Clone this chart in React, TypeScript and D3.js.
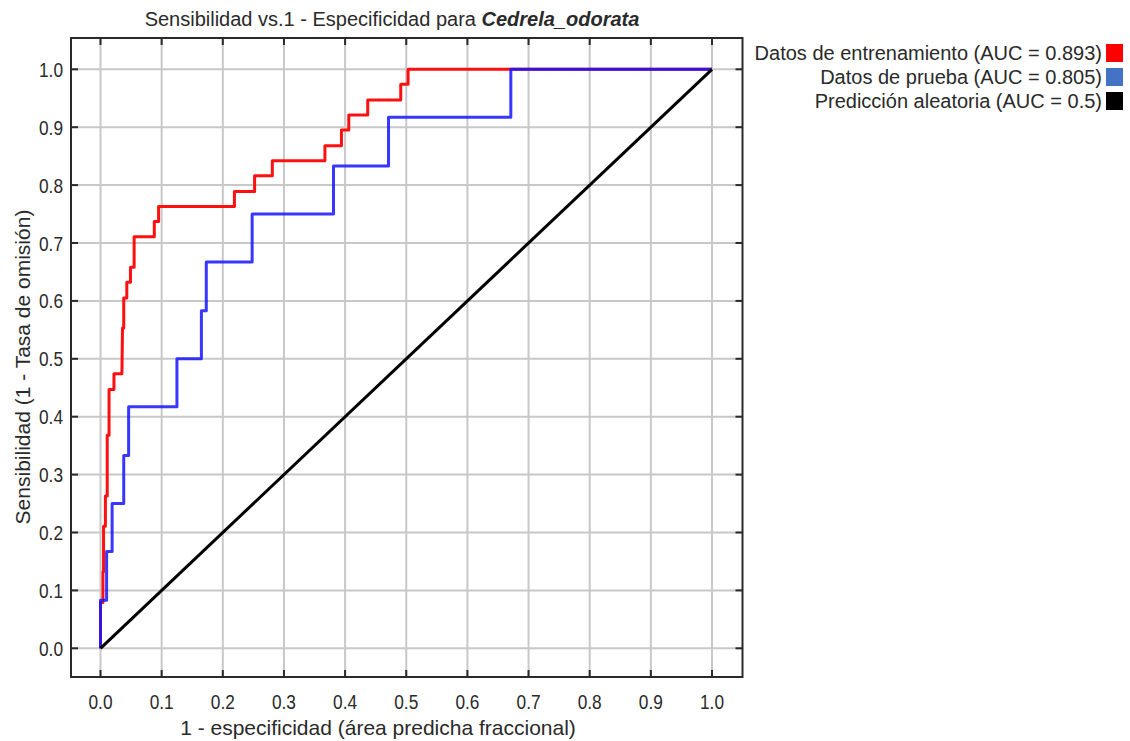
import React from 'react';
import * as d3 from 'd3';

// ROC curves (1 - specificity, sensitivity)
const trainingFpr = [0, 0, 0.004, 0.004, 0.005, 0.005, 0.008, 0.008, 0.011, 0.011, 0.014, 0.014, 0.022, 0.022, 0.035, 0.036, 0.038, 0.038, 0.043, 0.043, 0.049, 0.049, 0.055, 0.055, 0.088, 0.088, 0.095, 0.095, 0.219, 0.219, 0.252, 0.252, 0.281, 0.281, 0.367, 0.367, 0.394, 0.394, 0.406, 0.406, 0.437, 0.437, 0.491, 0.491, 0.503, 0.503, 1];
const trainingTpr = [0, 0.079, 0.079, 0.132, 0.132, 0.211, 0.211, 0.263, 0.263, 0.368, 0.368, 0.447, 0.447, 0.474, 0.474, 0.553, 0.553, 0.605, 0.605, 0.632, 0.632, 0.658, 0.658, 0.711, 0.711, 0.737, 0.737, 0.763, 0.763, 0.789, 0.789, 0.816, 0.816, 0.842, 0.842, 0.868, 0.868, 0.895, 0.895, 0.921, 0.921, 0.947, 0.947, 0.974, 0.974, 1, 1];

const testFpr = [0, 0, 0.01, 0.01, 0.019, 0.019, 0.038, 0.038, 0.046, 0.046, 0.125, 0.125, 0.165, 0.165, 0.173, 0.173, 0.248, 0.248, 0.381, 0.381, 0.471, 0.471, 0.671, 0.671, 1];
const testTpr = [0, 0.083, 0.083, 0.167, 0.167, 0.25, 0.25, 0.333, 0.333, 0.417, 0.417, 0.5, 0.5, 0.583, 0.583, 0.667, 0.667, 0.75, 0.75, 0.833, 0.833, 0.917, 0.917, 1, 1];

const randomFpr = [0, 1];
const randomTpr = [0, 1];

const tickValues = [0, 0.1, 0.2, 0.3, 0.4, 0.5, 0.6, 0.7, 0.8, 0.9, 1.0];

const legendLabels = ['Datos de entrenamiento (AUC = 0.893)', 'Datos de prueba (AUC = 0.805)', 'Predicción aleatoria (AUC = 0.5)'];
const legendColors = ['#ff0000', '#4472c4', '#000000'];

const frame = { left: 71, right: 742.5, top: 38, bottom: 677 };
const font = '"Liberation Sans", Arial, sans-serif';

const App = () => {
  const x = d3.scaleLinear([0, 1], [100.5, 712]);
  const y = d3.scaleLinear([0, 1], [648.3, 69.3]);

  const line = d3.line<[number, number]>()
    .x(d => x(d[0]))
    .y(d => y(d[1]));

  const zip = (a: number[], b: number[]) => a.map((v, i) => [v, b[i]] as [number, number]);

  const series = [
    { pts: zip(trainingFpr, trainingTpr), color: '#ff1010', opacity: 1 },
    { pts: zip(testFpr, testTpr), color: '#1414ff', opacity: 0.85 },
    { pts: zip(randomFpr, randomTpr), color: '#000000', opacity: 1 },
  ];

  const fmt = d3.format('.1f');

  return (
    <svg width={1130} height={741} style={{ position: 'absolute', left: 0, top: 0, background: '#fff' }}
      fontFamily={font}>
      {/* grid */}
      {tickValues.map(t => (
        <line key={'gx' + t} x1={x(t)} x2={x(t)} y1={frame.top} y2={frame.bottom} stroke="#c8c8c8" strokeWidth={2} />
      ))}
      {tickValues.map(t => (
        <line key={'gy' + t} x1={frame.left} x2={frame.right} y1={y(t)} y2={y(t)} stroke="#c8c8c8" strokeWidth={2} />
      ))}

      {/* curves */}
      {series.map((s, i) => (
        <path key={i} d={line(s.pts) || ''} fill="none" stroke={s.color} strokeOpacity={s.opacity}
          strokeWidth={3} strokeLinejoin="round" />
      ))}

      {/* frame and ticks (all pointing inward) */}
      <rect x={frame.left} y={frame.top} width={frame.right - frame.left} height={frame.bottom - frame.top}
        fill="none" stroke="#2a2a2a" strokeWidth={2} />
      {tickValues.map(t => (
        <g key={'t' + t} stroke="#2a2a2a" strokeWidth={2}>
          <line x1={x(t)} x2={x(t)} y1={frame.bottom} y2={frame.bottom - 7} />
          <line x1={x(t)} x2={x(t)} y1={frame.top} y2={frame.top + 7} />
          <line x1={frame.left} x2={frame.left + 7} y1={y(t)} y2={y(t)} />
          <line x1={frame.right} x2={frame.right - 7} y1={y(t)} y2={y(t)} />
        </g>
      ))}

      {/* tick labels */}
      {tickValues.map(t => (
        <text key={'lx' + t} x={x(t) - 12} y={709} fontSize={20} fill="#2a2a2a"
          textLength={24} lengthAdjust="spacingAndGlyphs">{fmt(t)}</text>
      ))}
      {tickValues.map(t => (
        <text key={'ly' + t} x={39} y={y(t) + 7.5} fontSize={20} fill="#2a2a2a"
          textLength={24} lengthAdjust="spacingAndGlyphs">{fmt(t)}</text>
      ))}

      {/* titles */}
      <text x={392} y={26} textAnchor="middle" fontSize={20} fill="#2a2a2a">
        Sensibilidad vs.1 - Especificidad para <tspan fontWeight="bold" fontStyle="italic">Cedrela_odorata</tspan>
      </text>
      <text x={378} y={735} textAnchor="middle" fontSize={21} fill="#2a2a2a">1 - especificidad (área predicha fraccional)</text>
      <text transform="translate(30,367) rotate(-90)" textAnchor="middle" fontSize={21} fill="#2a2a2a">Sensibilidad (1 - Tasa de omisión)</text>

      {/* legend */}
      {legendLabels.map((l, i) => (
        <g key={l}>
          <text x={1102} y={60 + i * 24} textAnchor="end" fontSize={20} fill="#2a2a2a">{l}</text>
          <rect x={1106} y={44 + i * 24} width={17} height={18} fill={legendColors[i]} />
        </g>
      ))}
    </svg>
  );
};

export default App;
